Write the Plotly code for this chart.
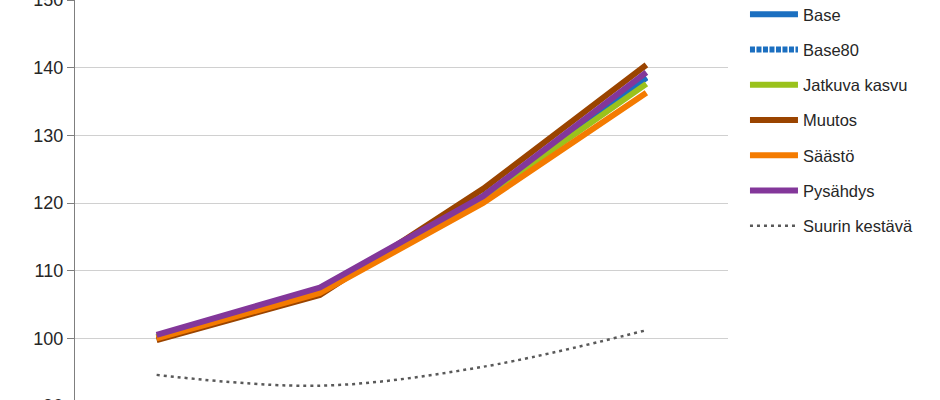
import plotly.graph_objects as go

categories = ["2015", "2020", "2025", "2030"]
series_names = ["Base", "Base80", "Jatkuva kasvu", "Muutos", "Säästö", "Pysähdys", "Suurin kestävä"]
base = [100.2, 107.1, 121.0, 138.5]
base80 = [100.2, 107.1, 121.0, 138.6]
jatkuva_kasvu = [100.2, 107.0, 120.7, 137.6]
muutos = [99.75, 106.4, 122.1, 140.4]
saasto = [100.0, 106.7, 120.0, 136.3]
pysahdys = [100.5, 107.5, 121.0, 139.3]
suurin_kestava = [94.6, 93.0, 95.8, 101.2]
y_ticks = [90, 100, 110, 120, 130, 140, 150]

series_values = [base, base80, jatkuva_kasvu, muutos, saasto, pysahdys, suurin_kestava]
colors = ["#1b6fc0", "#1b6fc0", "#9ac21c", "#9a4400", "#f47b00", "#83379a", "#595959"]
dashes = ["solid", "5px,1.5px", "solid", "solid", "solid", "solid", "3px,4px"]
widths = [6, 6, 6, 6, 6, 6, 2.5]
shapes_ = ["linear"] * 6 + ["spline"]

fig = go.Figure()
for i, (name, vals) in enumerate(zip(series_names, series_values)):
    fig.add_trace(go.Scatter(
        x=categories, y=vals, name=name, mode="lines",
        line=dict(color=colors[i], width=widths[i], dash=dashes[i], shape=shapes_[i]),
        legendgroup=name,
    ))

fig.update_layout(
    width=940, height=406,
    template="none",
    paper_bgcolor="white", plot_bgcolor="white",
    margin=dict(l=75, r=212, t=0, b=0, autoexpand=False),
    font=dict(family="Liberation Sans, Arial, sans-serif", color="#262626"),
    showlegend=True,
    legend=dict(
        x=1.026, xanchor="left", y=1.0075, yanchor="top",
        xref="paper", yref="paper",
        font=dict(size=16.5, color="#262626"),
        itemwidth=48, tracegroupgap=10.8,
        maxheight=400,
        bgcolor="rgba(0,0,0,0)", borderwidth=0,
    ),
    xaxis=dict(
        type="category", showgrid=False, zeroline=False,
        showline=False, ticks="", showticklabels=False,
        range=[-0.5, len(categories) - 0.5], automargin=False,
    ),
    yaxis=dict(
        range=[90, 150], tickvals=y_ticks, ticktext=[str(v) for v in y_ticks],
        showgrid=True, gridcolor="#d0d0d0", gridwidth=1.3,
        showline=True, linecolor="#7f7f7f", linewidth=1.3,
        ticks="outside", ticklen=7, tickcolor="#7f7f7f", tickwidth=1.3,
        tickfont=dict(size=18, color="#262626"),
        ticklabeloverflow="allow",
        zeroline=False, automargin=False,
    ),
)

fig.write_html(
    "out.html",
    config={"displayModeBar": False},
    post_script="document.body.style.margin='0';document.body.style.overflow='hidden';",
)
